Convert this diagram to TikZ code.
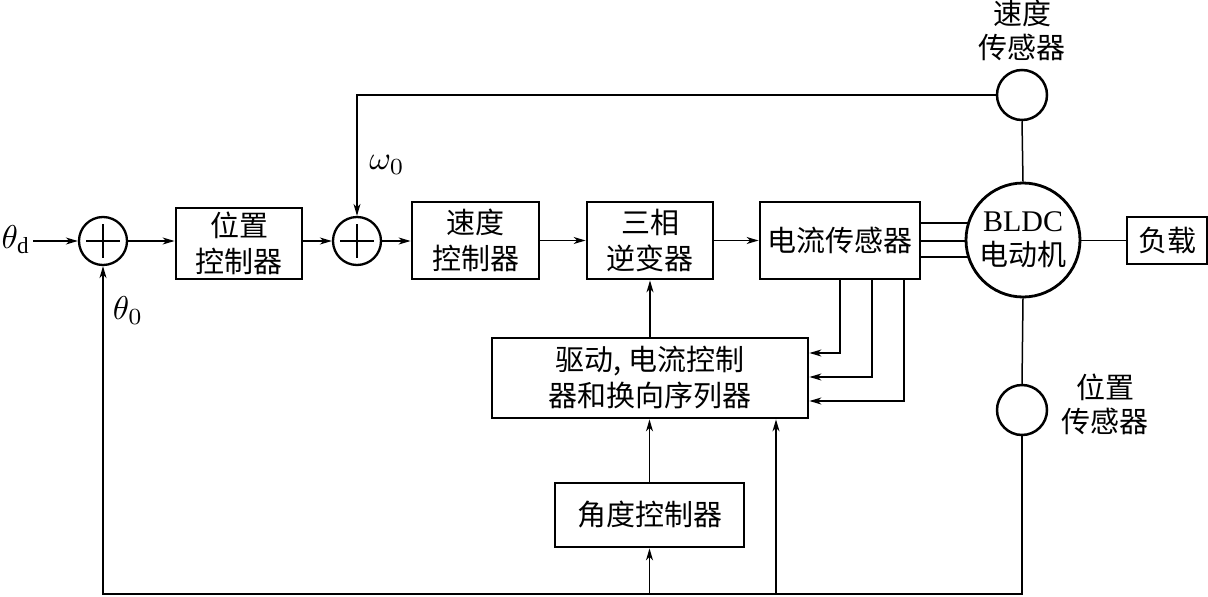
\documentclass[tikz,border=0pt]{standalone}
\usepackage{fontspec}
\setmainfont{Liberation Serif}
\newfontfamily\cjk{Noto Sans CJK SC}
\usetikzlibrary{arrows.meta,calc,positioning}
\begin{document}
\begin{tikzpicture}[x=1pt,y=-1pt,
  blk/.style={draw,line width=2.8pt,rectangle,inner sep=0pt,align=center,
    font=\cjk\fontsize{29}{36}\selectfont},
  sumj/.style={draw,line width=2.3pt,circle,minimum size=48pt,inner sep=0pt},
  sens/.style={draw,line width=2.5pt,circle,minimum size=50pt,inner sep=0pt},
  lbl/.style={align=center,font=\cjk\fontsize{29}{34}\selectfont,inner sep=0pt},
  conn/.style={line width=1.5pt},
  arr/.style={conn,-{Stealth[length=12pt,width=7pt,inset=3.5pt]}},
  mth/.style={scale=3.3,inner sep=0pt}
]
\useasboundingbox (0,0) rectangle (1208,597);

% summing junctions
\node[sumj] (s1) at (103,241) {};
\node[sumj] (s2) at (357,241) {};
\foreach \s in {s1,s2}{
  \draw[line width=1.4pt] ($(\s)+(-17,0)$) -- ($(\s)+(17,0)$);
  \draw[line width=1.4pt] ($(\s)+(0,-17)$) -- ($(\s)+(0,17)$);
}

% blocks
\node[blk,minimum width=126pt,minimum height=71pt] (pc) at (239,243.5) {位置\\控制器};
\node[blk,minimum width=127pt,minimum height=77pt] (sc) at (475.5,240.5) {速度\\控制器};
\node[blk,minimum width=126pt,minimum height=77pt] (inv) at (650,240.5) {三相\\逆变器};
\node[blk,minimum width=160pt,minimum height=77pt] (cs) at (840,240.5) {电流传感器};
\node[draw,line width=2.8pt,circle,minimum size=114pt,inner sep=0pt,align=center,
  font=\fontsize{30}{34}\selectfont] (m) at (1023,240)
  {BLDC\\{\cjk\fontsize{29}{34}\selectfont 电动机}};
\node[blk,minimum width=80pt,minimum height=47pt] (load) at (1167,240.5) {负载};
\node[blk,minimum width=316pt,minimum height=80pt] (drv) at (650,378) {驱动, 电流控制\\器和换向序列器};
\node[blk,minimum width=189pt,minimum height=64pt] (ang) at (649.5,515) {角度控制器};

% sensors
\node[sens] (ss) at (1022,95) {};
\node[lbl,above=8pt of ss] (ssl) {速度\\传感器};
\node[sens] (ps) at (1022,410) {};
\node[lbl] (psl) at (1105,404) {位置\\传感器};

% labels
\node[mth] (td) at (16,240) {$\theta_{\mathrm d}$};
\node[mth] (t0) at (128,311) {$\theta_0$};
\node[mth] (w0) at (387,165) {$\omega_0$};

% coordinates
\coordinate (in) at (33,241);
\coordinate (sbl) at (103,594);
\coordinate (sbr) at (1022,594);
\coordinate (stl) at (357,95);
\coordinate (p1) at (968.6,223);
\coordinate (p2) at (966,241);
\coordinate (p3) at (968.6,257);

% forward path
\draw[arr] (in) -- (s1.west);
\draw[arr] (s1.east) -- (pc.west |- s1);
\draw[arr] (pc.east |- s2) -- (s2.west);
\draw[arr] (s2.east) -- (sc.west |- s2);
\draw[arr] (sc.east) -- (inv.west);
\draw[arr] (inv.east) -- (cs.west);
\draw[conn] (m.east |- load.west) -- (load.west);

% three phase lines
\draw[conn] (cs.east |- p1) -- (p1);
\draw[conn] (cs.east |- p2) -- (p2);
\draw[conn] (cs.east |- p3) -- (p3);

% speed feedback
\draw[line width=1.1pt,-{Stealth[length=12pt,width=7pt,inset=3.5pt]}] (ss.west) -- (stl) -- (s2.north);
\draw[conn] (ss.south) -- (m.north);

% position feedback
\draw[conn] (m.south) -- (ps.north);
\draw[arr] (ps.south) -- (sbr) -- (sbl) -- (s1.south);

% current feedback to driver
\draw[arr] (cs.south -| 840,0) |- (drv.east |- 0,353);
\draw[arr] (cs.south -| 872,0) |- (drv.east |- 0,377);
\draw[arr] (cs.south -| 904,0) |- (drv.east |- 0,401);

% driver / angle
\draw[arr] (drv.north -| inv.south) -- (inv.south);
\draw[arr] (ang.north) -- (drv.south -| ang.north);
\draw[arr] (sbl -| ang.south) -- (ang.south);
\draw[arr] (sbl -| 776,0) -- (drv.south -| 776,0);
\end{tikzpicture}
\end{document}
